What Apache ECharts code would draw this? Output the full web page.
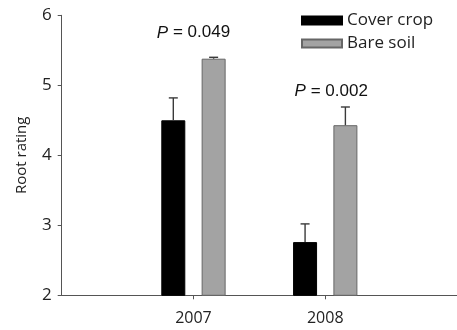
<!DOCTYPE html>
<html>
<head>
<meta charset="utf-8">
<script src="https://cdn.jsdelivr.net/npm/echarts@6/dist/echarts.min.js"></script>
<style>
  html, body { margin: 0; padding: 0; background: #ffffff; }
  #chart { width: 457px; height: 330px; }
</style>
</head>
<body>
<div id="chart"></div>
<script>
// Years on the x axis (blank slots pad the axis on both sides)
const years = ['', '2007', '2008', ''];
// Mean root rating per treatment
const coverCrop = ['-', 4.50, 2.76, '-'];
const bareSoil = ['-', 5.38, 4.43, '-'];
// Standard errors (upper whisker only)
const coverCropErr = ['-', 0.32, 0.26, '-'];
const bareSoilErr = ['-', 0.02, 0.26, '-'];
// Significance notes: [year index, rating level, text]
const pNotes = [
  [1, 5.75, '0.049'],
  [2, 4.91, '0.002']
];

const BAR_W = 24;
const BAR_GAP = 0.68;
const halfStep = (BAR_W + BAR_W * BAR_GAP) / 2;

function errorSeries(name, means, errs, side) {
  const data = [];
  means.forEach((m, i) => {
    if (m !== '-') data.push([i, m, m + errs[i]]);
  });
  return {
    type: 'custom',
    name: name + ' SE',
    z: 5,
    silent: true,
    data: data,
    renderItem: function (params, api) {
      const base = api.coord([api.value(0), api.value(1)]);
      const top = api.coord([api.value(0), api.value(2)]);
      const x = base[0] + side * halfStep;
      const cap = 4.5;
      const style = { stroke: '#3a3a3a', lineWidth: 1.4 };
      return {
        type: 'group',
        children: [
          { type: 'line', shape: { x1: x, y1: base[1], x2: x, y2: top[1] }, style: style },
          { type: 'line', shape: { x1: x - cap, y1: top[1], x2: x + cap, y2: top[1] }, style: style }
        ]
      };
    }
  };
}

const chart = echarts.init(document.getElementById('chart'));
chart.setOption({
  backgroundColor: '#ffffff',
  animation: false,
  grid: { left: 61.7, right: -4.7, top: 15.3, bottom: 34.7, containLabel: false },
  legend: {
    left: 296,
    top: 7,
    orient: 'vertical',
    itemWidth: 40,
    itemHeight: 8,
    itemGap: 6,
    icon: 'rect',
    data: ['Cover crop', 'Bare soil'],
    textStyle: { fontFamily: 'Open Sans', fontSize: 17, color: '#222', padding: [0, 0, 0, 0] }
  },
  xAxis: {
    type: 'category',
    data: years,
    boundaryGap: false,
    axisLine: { lineStyle: { color: '#555', width: 1 } },
    axisTick: {
      show: true,
      length: 4,
      inside: false,
      interval: function (idx, val) { return val !== ''; },
      lineStyle: { color: '#555' }
    },
    axisLabel: {
      interval: function (idx, val) { return val !== ''; },
      margin: 15,
      fontFamily: 'Open Sans',
      fontSize: 16,
      color: '#222'
    },
    splitLine: { show: false }
  },
  yAxis: {
    type: 'value',
    min: 2,
    max: 6,
    interval: 1,
    name: 'Root rating',
    nameLocation: 'middle',
    nameGap: 32,
    nameTextStyle: { fontFamily: 'Open Sans', fontSize: 15, color: '#222' },
    axisLine: { show: true, lineStyle: { color: '#555', width: 1 } },
    axisTick: { show: true, length: 4, lineStyle: { color: '#555' } },
    axisLabel: { fontFamily: 'Open Sans', fontSize: 17, color: '#222', margin: 10 },
    splitLine: { show: false }
  },
  series: [
    {
      name: 'Cover crop',
      type: 'bar',
      data: coverCrop,
      barWidth: BAR_W,
      barGap: (BAR_GAP * 100) + '%',
      itemStyle: { color: '#000000', borderColor: '#000000', borderWidth: 1 }
    },
    {
      name: 'Bare soil',
      type: 'bar',
      data: bareSoil,
      barWidth: BAR_W,
      itemStyle: { color: '#a3a3a3', borderColor: '#666666', borderWidth: 1 }
    },
    errorSeries('Cover crop', coverCrop, coverCropErr, -1),
    errorSeries('Bare soil', bareSoil, bareSoilErr, 1),
    {
      type: 'custom',
      name: 'P values',
      silent: true,
      data: pNotes,
      renderItem: function (params, api) {
        const p = api.coord([api.value(0), api.value(1)]);
        const txt = pNotes[params.dataIndex][2];
        return {
          type: 'text',
          x: p[0] + (params.dataIndex === 1 ? 6 : 0),
          y: p[1],
          style: {
            text: '{i|P} = ' + txt,
            align: 'center',
            verticalAlign: 'middle',
            fontFamily: 'Liberation Sans',
            fontSize: 17,
            fill: '#111',
            rich: {
              i: { fontStyle: 'italic', fontFamily: 'Liberation Sans', fontSize: 17, fill: '#111' }
            }
          }
        };
      }
    }
  ]
});
</script>
</body>
</html>
